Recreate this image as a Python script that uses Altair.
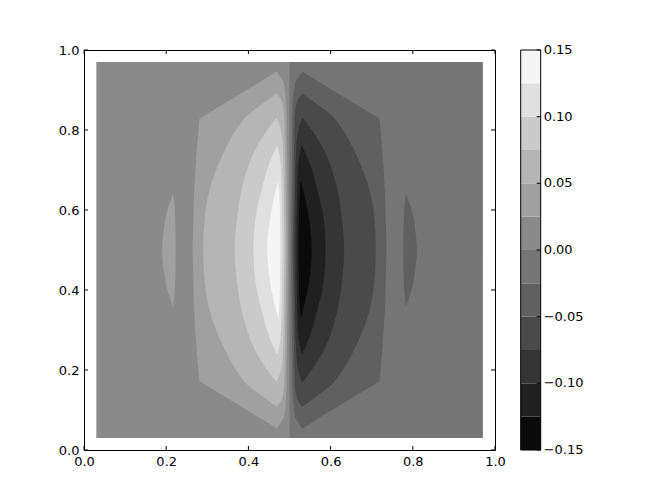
import altair as alt
import pandas as pd

# ---- contour levels / colours (matplotlib gray colormap, 12 bands) ----
levels = [-0.15, -0.125, -0.10, -0.075, -0.05, -0.025, 0.0,
          0.025, 0.05, 0.075, 0.10, 0.125, 0.15]
band_grays = ['#0a0a0a', '#202020', '#353535', '#4a4a4a', '#606060', '#757575',
              '#8a8a8a', '#a0a0a0', '#b5b5b5', '#cacaca', '#e0e0e0', '#f5f5f5']

# ---- field extent: whole field in band 6 (0..0.025), right half band 5 ----
bg_x0 = [0.03, 0.50]
bg_x1 = [0.97, 0.97]
bg_band = [6, 5]
bg_y0 = 0.03
bg_y1 = 0.97

# ---- upper half of each positive contour region on the left side
#      (y from apex down to centre line 0.5; region spans xl..xr) ----
k1_y  = [0.946, 0.92, 0.89, 0.86, 0.828, 0.75, 0.65, 0.50]
k1_xl = [0.469, 0.428, 0.380, 0.332, 0.281, 0.274, 0.268, 0.264]
k1_xr = [0.469, 0.486, 0.490, 0.492, 0.493, 0.494, 0.495, 0.496]

k2_y  = [0.892, 0.87, 0.835, 0.80, 0.75, 0.67, 0.585, 0.50]
k2_xl = [0.469, 0.440, 0.396, 0.370, 0.343, 0.311, 0.294, 0.290]
k2_xr = [0.469, 0.482, 0.487, 0.488, 0.489, 0.490, 0.491, 0.492]

k3_y  = [0.831, 0.80, 0.75, 0.67, 0.585, 0.50]
k3_xl = [0.469, 0.446, 0.416, 0.388, 0.373, 0.367]
k3_xr = [0.469, 0.479, 0.484, 0.486, 0.487, 0.488]

k4_y  = [0.761, 0.72, 0.653, 0.585, 0.50]
k4_xl = [0.470, 0.452, 0.433, 0.418, 0.412]
k4_xr = [0.470, 0.478, 0.481, 0.482, 0.483]

k5_y  = [0.673, 0.62, 0.569, 0.50]
k5_xl = [0.473, 0.460, 0.451, 0.446]
k5_xr = [0.473, 0.476, 0.477, 0.4775]

blob_y  = [0.641, 0.60, 0.55, 0.50]
blob_xl = [0.217, 0.203, 0.194, 0.190]
blob_xr = [0.217, 0.221, 0.2225, 0.223]

axis_ticks = [0.0, 0.2, 0.4, 0.6, 0.8, 1.0]
cbar_ticks = [-0.15, -0.10, -0.05, 0.0, 0.05, 0.10, 0.15]

W, H = 411, 400
CB_X0, CB_X1 = 436.7, 456.7
FONT = 'DejaVu Sans'
FS = 13
TICK = 4


def region_rows(name, band, ys, xl, xr):
    """upper-half outline -> full outline (symmetric about y=0.5), plus the
    antisymmetric counterpart on the right side."""
    pts = list(zip(ys, xl, xr))
    full = pts + [(1 - y, a, b) for (y, a, b) in pts if abs(y - 0.5) > 1e-9]
    full.sort(key=lambda p: p[0])
    rows = []
    for (y, a, b) in full:
        rows.append(dict(shape=name + '_L', band=band, y=y, xl=a, xr=b))
    for (y, a, b) in full:
        rows.append(dict(shape=name + '_R', band=11 - band, y=y,
                         xl=1 - b, xr=1 - a))
    return rows


xs = alt.Scale(domain=[0, 1], nice=False, zero=False)
ys = alt.Scale(domain=[0, 1], nice=False, zero=False)
x_axis = alt.Axis(values=axis_ticks, format='.1f', ticks=False, domain=False,
                  grid=False, labelPadding=5, labelFlush=False, title=None)
y_axis = alt.Axis(values=axis_ticks, format='.1f', ticks=False, domain=False,
                  grid=False, labelPadding=5, labelFlush=False, title=None)
cs = alt.Scale(domain=list(range(12)), range=band_grays)
color = alt.Color('band:O', scale=cs, legend=None)


def X(field, **kw):
    return alt.X(field, scale=xs, axis=x_axis, title=None, **kw)


def Y(field, **kw):
    return alt.Y(field, scale=ys, axis=y_axis, title=None, **kw)


bg_df = pd.DataFrame(dict(x0=bg_x0, x1=bg_x1, band=bg_band,
                          y0=[bg_y0] * 2, y1=[bg_y1] * 2))
background = alt.Chart(bg_df).mark_rect(strokeWidth=0).encode(
    x=X('x0:Q'), x2='x1:Q', y=Y('y0:Q'), y2='y1:Q', color=color,
    order=alt.Order('band:Q', sort='descending'))

regions = [
    ('k1', 7, 'linear', [(k1_y, k1_xl, k1_xr)]),
    ('kb', 7, 'monotone', [(blob_y, blob_xl, blob_xr)]),
    ('k2', 8, 'monotone', [(k2_y, k2_xl, k2_xr)]),
    ('k3', 9, 'monotone', [(k3_y, k3_xl, k3_xr)]),
    ('k4', 10, 'monotone', [(k4_y, k4_xl, k4_xr)]),
    ('k5', 11, 'monotone', [(k5_y, k5_xl, k5_xr)]),
]
area_layers = []
for name, band, interp, shapes in regions:
    rows = []
    for j, (yy, a, b) in enumerate(shapes):
        rows += region_rows(f'{name}_{j}', band, yy, a, b)
    area_layers.append(
        alt.Chart(pd.DataFrame(rows)).mark_area(orient='horizontal',
                                                 interpolate=interp).encode(
            y=Y('y:Q'),
            x=X('xl:Q', stack=None),
            x2='xr:Q',
            color=color,
            detail='shape:N',
        )
    )

tick_df = pd.DataFrame(dict(v=axis_ticks))
tb = alt.Chart(tick_df).mark_rule(color='black', strokeWidth=1).encode(
    x=X('v:Q'), y=alt.value(H), y2=alt.value(H - TICK))
tt = alt.Chart(tick_df).mark_rule(color='black', strokeWidth=1).encode(
    x=X('v:Q'), y=alt.value(0), y2=alt.value(TICK))
tl = alt.Chart(tick_df).mark_rule(color='black', strokeWidth=1).encode(
    y=Y('v:Q'), x=alt.value(0), x2=alt.value(TICK))
tr = alt.Chart(tick_df).mark_rule(color='black', strokeWidth=1).encode(
    y=Y('v:Q'), x=alt.value(W), x2=alt.value(W - TICK))

# ---- colour bar: level values placed on the shared vertical scale ----
span = f'({levels[-1]} - ({levels[0]}))'
lo_expr = f'(datum.lo - ({levels[0]})) / {span}'
hi_expr = f'(datum.hi - ({levels[0]})) / {span}'
v_expr = f'(datum.v - ({levels[0]})) / {span}'

cb_df = pd.DataFrame(dict(lo=levels[:-1], hi=levels[1:], band=list(range(12))))
cb_rects = alt.Chart(cb_df).transform_calculate(
    ylo=lo_expr, yhi=hi_expr
).mark_rect(strokeWidth=0).encode(
    y=Y('ylo:Q'), y2='yhi:Q',
    x=alt.value(CB_X0), x2=alt.value(CB_X1),
    color=color,
)
cb_outline = alt.Chart(pd.DataFrame(dict(lo=[levels[0]], hi=[levels[-1]]))).transform_calculate(
    ylo=lo_expr, yhi=hi_expr
).mark_rect(fill=None, stroke='black', strokeWidth=1).encode(
    y=Y('ylo:Q'), y2='yhi:Q',
    x=alt.value(CB_X0), x2=alt.value(CB_X1))
cb_tick_df = pd.DataFrame(dict(v=cbar_ticks))
cb_ticks = alt.Chart(cb_tick_df).transform_calculate(yv=v_expr).mark_rule(
    color='black', strokeWidth=1).encode(
    y=Y('yv:Q'),
    x=alt.value(CB_X1), x2=alt.value(CB_X1 - TICK))
cb_labels = alt.Chart(cb_tick_df).transform_calculate(
    yv=v_expr, label="format(datum.v, '.2f')"
).mark_text(align='left', baseline='middle', font=FONT, fontSize=FS,
            color='black').encode(
    y=Y('yv:Q'),
    x=alt.value(CB_X1 + 3),
    text='label:N')

chart = alt.layer(background, *area_layers, tb, tt, tl, tr,
                  cb_rects, cb_outline, cb_ticks, cb_labels).properties(
    width=W, height=H, autosize='none',
    padding={'left': 76, 'top': 42, 'right': 150, 'bottom': 40},
).configure(
    background='white',
    view=alt.ViewConfig(stroke='black', strokeWidth=1),
    axis=alt.AxisConfig(labelFont=FONT, labelFontSize=FS, labelColor='black'),
)

chart.save('out.html', embed_options={'renderer': 'svg', 'actions': False})
